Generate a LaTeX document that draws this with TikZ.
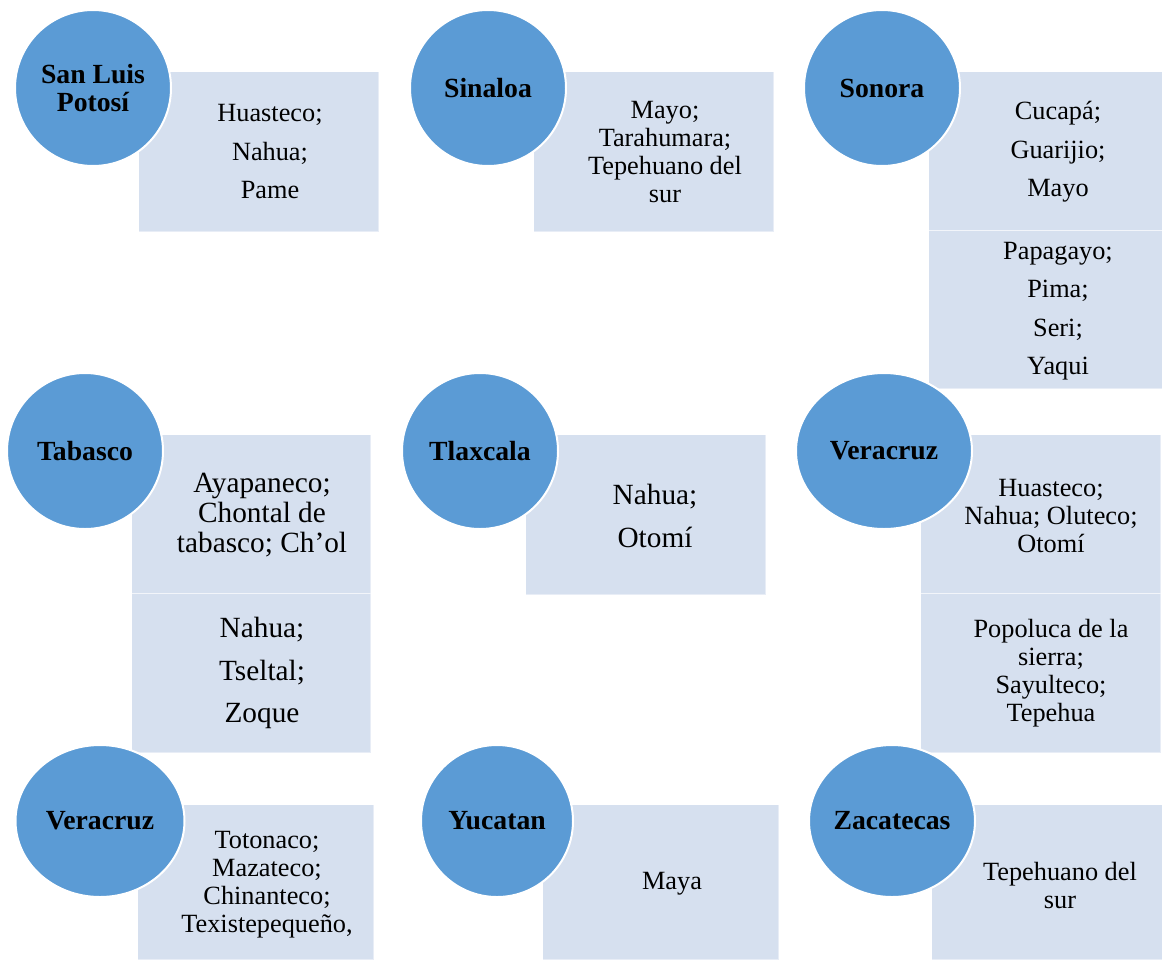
\documentclass[tikz,border=0pt]{standalone}
\usepackage{fontspec}
\setmainfont{Liberation Serif}
\usetikzlibrary{shapes.geometric}
\definecolor{circc}{RGB}{91,155,213}
\definecolor{boxc}{RGB}{214,224,239}
\tikzset{
  box/.style={rectangle, fill=boxc, draw=white, draw opacity=0.45, line width=1pt, anchor=north west, inner sep=0pt},
  st/.style={ellipse, fill=circc, draw=white, line width=2pt, inner sep=0pt, align=center,
     font=\fontsize{27.7}{27.5}\selectfont\bfseries},
  ta/.style={align=center, inner sep=0pt, font=\fontsize{26.3}{28}\selectfont},
  tas/.style={align=center, inner sep=0pt, font=\fontsize{26.3}{38.5}\selectfont},
  tb/.style={align=center, inner sep=0pt, font=\fontsize{29.3}{30}\selectfont},
  tbs/.style={align=center, inner sep=0pt, font=\fontsize{29.3}{42.5}\selectfont},
}
\begin{document}
\begin{tikzpicture}[x=1pt,y=-1pt]
\useasboundingbox (0,0) rectangle (1162,959);
% boxes
\node[box, minimum width=240, minimum height=160] (r1) at (138,71) {};
\node[box, minimum width=240, minimum height=160] (r2) at (533,71) {};
\node[box, minimum width=234, minimum height=159] (r3a) at (928,71) {};
\node[box, minimum width=234, minimum height=158] (r3b) at (928,230) {};
\node[box, minimum width=239, minimum height=159] (r4a) at (131,434) {};
\node[box, minimum width=239, minimum height=159] (r4b) at (131,593) {};
\node[box, minimum width=240, minimum height=160] (r5) at (525,434) {};
\node[box, minimum width=240, minimum height=159] (r6a) at (920,434) {};
\node[box, minimum width=240, minimum height=159] (r6b) at (920,593) {};
\node[box, minimum width=236, minimum height=155] (r7) at (137,804) {};
\node[box, minimum width=236, minimum height=155] (r8) at (542,804) {};
\node[box, minimum width=231, minimum height=155] (r9) at (931,804) {};
% box texts
\node[tas] (t1) at (270,152) {Huasteco;\\Nahua;\\Pame};
\node[ta] (t2) at (665,152) {Mayo;\\Tarahumara;\\Tepehuano del\\sur};
\node[tas] (t3a) at (1058,152) {Cucapá;\\Guarijio;\\Mayo};
\node[tas] (t3b) at (1058,311) {Papagayo;\\Pima;\\Seri;\\Yaqui};
\node[tb] (t4a) at (262,515) {Ayapaneco;\\Chontal de\\tabasco; Ch’ol};
\node[tbs] (t4b) at (262,673) {Nahua;\\Tseltal;\\Zoque};
\node[tbs] (t5) at (655,516) {Nahua;\\Otomí};
\node[ta] (t6a) at (1051,516) {Huasteco;\\Nahua; Oluteco;\\Otomí};
\node[ta] (t6b) at (1051,673) {Popoluca de la\\sierra;\\Sayulteco;\\Tepehua};
\node[ta] (t7) at (267,885) {Totonaco;\\Mazateco;\\Chinanteco;\\Texistepequeño,};
\node[ta] (t8) at (672,884) {Maya};
\node[ta] (t9) at (1060,885) {Tepehuano del\\sur};
% circles
\node[st, minimum width=156, minimum height=156] (c1) at (93,88) {San Luis\\Potosí};
\node[st, minimum width=156, minimum height=156] (c2) at (488,88) {Sinaloa};
\node[st, minimum width=156, minimum height=156] (c3) at (882,88) {Sonora};
\node[st, minimum width=156, minimum height=156] (c4) at (85,451) {Tabasco};
\node[st, minimum width=156, minimum height=156] (c5) at (480,451) {Tlaxcala};
\node[st, minimum width=176, minimum height=156] (c6) at (884,451) {Veracruz};
\node[st, minimum width=169, minimum height=152] (c7) at (100,821) {Veracruz};
\node[st, minimum width=152, minimum height=152] (c8) at (497,821) {Yucatan};
\node[st, minimum width=166, minimum height=152] (c9) at (892,821) {Zacatecas};
\end{tikzpicture}
\end{document}
